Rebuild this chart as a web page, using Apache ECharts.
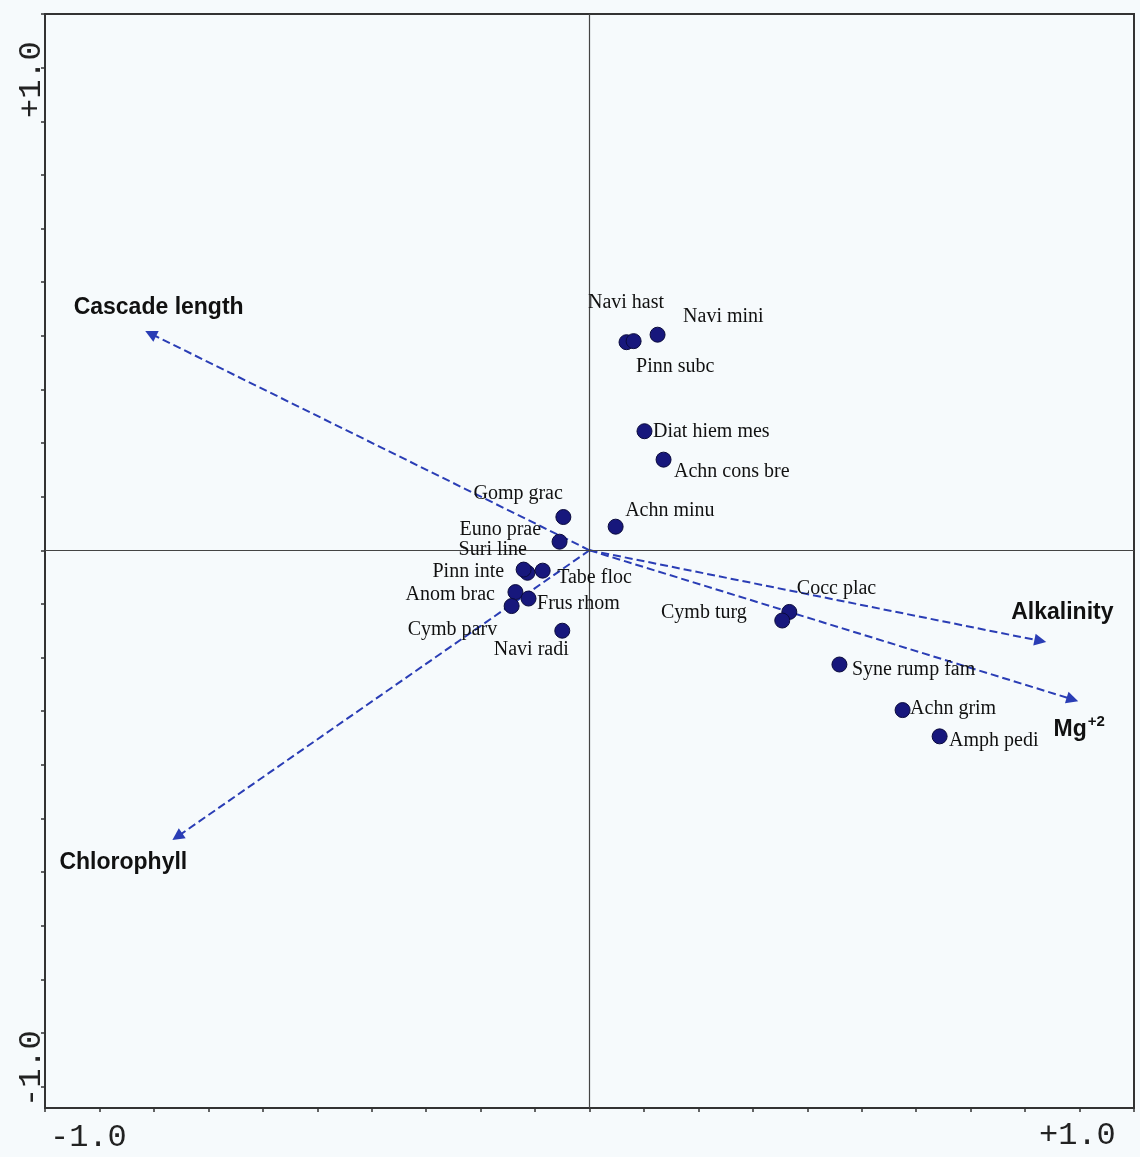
<!DOCTYPE html>
<html>
<head>
<meta charset="utf-8">
<script src="https://cdn.jsdelivr.net/npm/echarts@6/dist/echarts.min.js"></script>
<style>
  html, body { margin: 0; padding: 0; background: #f6fafc; }
  #chart { width: 1140px; height: 1157px; }
</style>
</head>
<body>
<div id="chart"></div>
<script>
// Ordination biplot: diatom species scores and environmental variable arrows

// Species scores (axis 1, axis 2)
const speciesNames = [
  'Navi hast', 'Pinn subc', 'Navi mini', 'Diat hiem mes', 'Achn cons bre',
  'Gomp grac', 'Achn minu', 'Euno prae', 'Suri line', 'Pinn inte',
  'Tabe floc', 'Anom brac', 'Frus rhom', 'Cymb parv', 'Navi radi',
  'Cocc plac', 'Cymb turg', 'Syne rump fam', 'Achn grim', 'Amph pedi'
];
const speciesX = [
  0.068, 0.081, 0.125, 0.101, 0.136,
  -0.048, 0.048, -0.055, -0.114, -0.121,
  -0.086, -0.136, -0.112, -0.143, -0.050,
  0.367, 0.354, 0.459, 0.575, 0.643
];
const speciesY = [
  0.388, 0.390, 0.402, 0.222, 0.169,
  0.062, 0.044, 0.016, -0.042, -0.036,
  -0.038, -0.078, -0.090, -0.104, -0.150,
  -0.115, -0.131, -0.213, -0.298, -0.347
];

// Environmental variable arrow tips
const envNames = ['Cascade length', 'Chlorophyll', 'Alkalinity', 'Mg+2'];
const envX = [-0.806, -0.757, 0.828, 0.887];
const envY = [0.404, -0.534, -0.169, -0.278];

// Axis tick labels (corners only)
const xTickLabels = ['-1.0', '+1.0'];
const yTickLabels = ['-1.0', '+1.0'];

// Label placement around each point: [align, dx, dy] from the point centre
const speciesLabelPlace = {
  'Navi hast': ['center', 0, -39],
  'Pinn subc': ['left', 3, 26],
  'Navi mini': ['left', 26, -17],
  'Diat hiem mes': ['left', 9, 1],
  'Achn cons bre': ['left', 11, 13],
  'Gomp grac': ['right', 0, -23],
  'Achn minu': ['left', 10, -15],
  'Euno prae': ['right', -18, -11],
  'Suri line': ['right', 0, -23],
  'Pinn inte': ['right', -19, 3],
  'Tabe floc': ['left', 15, 8],
  'Anom brac': ['right', -20, 3],
  'Frus rhom': ['left', 9, 6],
  'Cymb parv': ['right', -14, 24],
  'Navi radi': ['right', 7, 20],
  'Cocc plac': ['left', 8, -23],
  'Cymb turg': ['right', -35, -7],
  'Syne rump fam': ['left', 13, 6],
  'Achn grim': ['left', 8, -1],
  'Amph pedi': ['left', 10, 5]
};
const envLabelPlace = {
  'Cascade length': ['center', 8, -26],
  'Chlorophyll': ['center', -54, 26],
  'Alkalinity': ['center', 22, -28],
  'Mg+2': ['left', -19, 30]
};

const DOT = 15;

const chart = echarts.init(document.getElementById('chart'), null, { renderer: 'canvas' });

const speciesData = speciesNames.map((n, i) => {
  const p = speciesLabelPlace[n];
  return {
    name: n,
    value: [speciesX[i], speciesY[i]],
    label: { align: p[0], position: [DOT / 2 + p[1], DOT / 2 + p[2]] }
  };
});

const arrowData = envNames.map((n, i) => ({
  name: n,
  coords: [[0, 0], [envX[i], envY[i]]]
}));

const envLabelData = envNames.map((n, i) => {
  const p = envLabelPlace[n];
  return {
    name: n,
    value: [envX[i], envY[i]],
    label: { align: p[0], position: [1 + p[1], 1 + p[2]] }
  };
});

const yTicks = [];
for (let v = -10; v <= 10; v++) yTicks.push(v / 10);

const grid = { left: 45, top: 14, width: 1089, height: 1094 };

const monoFont = '"Liberation Mono", "DejaVu Sans Mono", monospace';
const sansBold = '"Liberation Sans", Arial, sans-serif';

chart.setOption({
  backgroundColor: '#f6fafc',
  animation: false,
  grid: Object.assign({
    show: true,
    borderColor: '#333',
    borderWidth: 2,
    backgroundColor: 'transparent'
  }, grid),
  xAxis: {
    type: 'value',
    min: -1,
    max: 1,
    interval: 0.1,
    position: 'bottom',
    axisLine: { show: false, onZero: false },
    axisTick: { show: true, inside: false, length: 4, lineStyle: { color: '#333', width: 1.5 } },
    axisLabel: { show: false },
    splitLine: { show: false }
  },
  yAxis: {
    type: 'value',
    min: -1.04,
    max: 1,
    position: 'left',
    axisLine: { show: false, onZero: false },
    axisTick: { show: true, inside: false, length: 4, customValues: yTicks, lineStyle: { color: '#333', width: 1.5 } },
    axisLabel: { show: false },
    splitLine: { show: false }
  },
  series: [
    {
      // zero axes through the origin
      type: 'scatter',
      data: [],
      z: 1,
      silent: true,
      markLine: {
        silent: true,
        symbol: 'none',
        label: { show: false },
        lineStyle: { color: '#444', width: 1.2, type: 'solid' },
        data: [{ xAxis: 0 }, { yAxis: 0 }]
      }
    },
    {
      type: 'lines',
      coordinateSystem: 'cartesian2d',
      z: 3,
      silent: true,
      symbol: ['none', 'triangle'],
      symbolSize: 12,
      lineStyle: { color: '#2a3db5', width: 2, type: [8, 4], opacity: 1 },
      data: arrowData
    },
    {
      type: 'scatter',
      z: 4,
      silent: true,
      symbolSize: 2,
      itemStyle: { opacity: 1, color: 'rgba(0,0,0,0)' },
      data: envLabelData,
      label: {
        show: true,
        verticalAlign: 'middle',
        color: '#111',
        fontFamily: sansBold,
        fontWeight: 'bold',
        fontSize: 23,
        formatter: (p) => p.name === 'Mg+2' ? '{b|Mg}{sup|+2}' : p.name,
        rich: {
          b: { fontFamily: sansBold, fontWeight: 'bold', fontSize: 23, color: '#111', lineHeight: 30 },
          sup: { fontFamily: sansBold, fontWeight: 'bold', fontSize: 15, color: '#111', verticalAlign: 'top', lineHeight: 30, padding: [0, 0, 12, 1] }
        }
      }
    },
    {
      type: 'scatter',
      z: 5,
      silent: true,
      symbol: 'circle',
      symbolSize: DOT,
      itemStyle: { color: '#17177c', borderColor: '#0a0a3c', borderWidth: 1, opacity: 1 },
      data: speciesData,
      label: {
        show: true,
        verticalAlign: 'middle',
        color: '#111',
        fontFamily: '"Liberation Serif", "Times New Roman", serif',
        fontSize: 20,
        formatter: (p) => p.name
      }
    }
  ],
  graphic: [
    {
      type: 'text', left: 50, top: 1122,
      style: { text: xTickLabels[0], font: '32px ' + monoFont, fill: '#222' }
    },
    {
      type: 'text', left: 1039, top: 1120,
      style: { text: xTickLabels[1], font: '32px ' + monoFont, fill: '#222' }
    },
    {
      type: 'text', x: 16, y: 1107, rotation: Math.PI / 2,
      style: { text: yTickLabels[0], font: '32px ' + monoFont, fill: '#222', textAlign: 'left', textVerticalAlign: 'top' }
    },
    {
      type: 'text', x: 16, y: 118, rotation: Math.PI / 2,
      style: { text: yTickLabels[1], font: '32px ' + monoFont, fill: '#222', textAlign: 'left', textVerticalAlign: 'top' }
    }
  ]
});
</script>
</body>
</html>
